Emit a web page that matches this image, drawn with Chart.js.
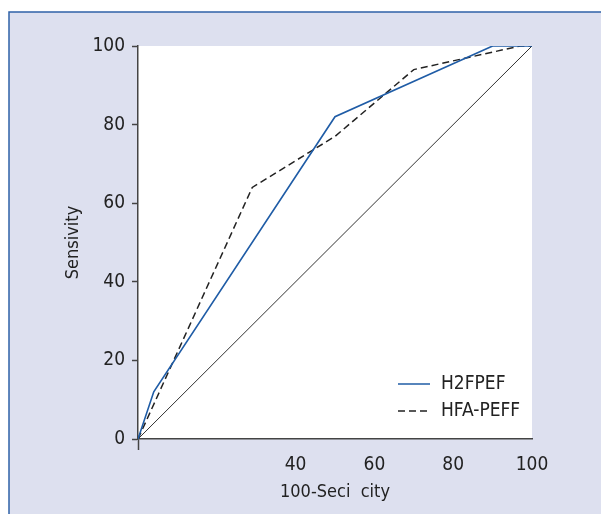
<!DOCTYPE html>
<html>
<head>
<meta charset="utf-8">
<script src="https://cdn.jsdelivr.net/npm/chart.js"></script>
<style>
  html, body { margin: 0; padding: 0; background: #fff; }
  #wrap { width: 601px; height: 514px; }
</style>
</head>
<body>
<div id="wrap"><canvas id="grafico" width="601" height="514"></canvas></div>
<script>
// datos
const h2fpefX = [0, 4, 50, 90, 100]
const h2fpefY = [0, 12, 82, 100, 100]
const hfaPeffX = [0, 29, 50, 70, 97, 100]
const hfaPeffY = [0, 64, 77, 94, 100, 100]
const diagonalX = [0, 100]
const diagonalY = [0, 100]
const ticksY = [0, 20, 40, 60, 80, 100]
const ticksXConEtiqueta = [40, 60, 80, 100]

const fuente = "'Liberation Sans Narrow', 'DejaVu Sans Condensed', sans-serif"

function puntos(xs, ys) {
    return xs.map((x, i) => ({ x: x, y: ys[i] }))
}

// fondo lila con marco azul y area blanca
const fondo = {
    id: 'fondo',
    beforeDraw(chart) {
        const ctx = chart.ctx
        const a = chart.chartArea
        ctx.save()
        ctx.fillStyle = '#ffffff'
        ctx.fillRect(0, 0, chart.width, chart.height)
        ctx.fillStyle = '#dde0ef'
        ctx.fillRect(9, 12, chart.width - 9, chart.height - 12)
        ctx.strokeStyle = '#2f62a8'
        ctx.lineWidth = 1.5
        ctx.beginPath()
        ctx.moveTo(9, chart.height)
        ctx.lineTo(9, 12)
        ctx.lineTo(chart.width, 12)
        ctx.stroke()
        ctx.fillStyle = '#ffffff'
        ctx.fillRect(a.left, a.top, a.right - a.left, a.bottom - a.top)
        ctx.restore()
    }
}

// leyenda dentro del area del grafico, abajo a la derecha
const leyenda = {
    id: 'leyenda',
    afterDraw(chart) {
        const ctx = chart.ctx
        const a = chart.chartArea
        const items = chart.data.datasets.filter(d => d.label)
        ctx.save()
        ctx.font = '19px ' + fuente
        ctx.textBaseline = 'middle'
        items.forEach((d, i) => {
            const y = a.bottom - 55 + i * 27
            ctx.strokeStyle = d.borderColor
            ctx.lineWidth = 1.5
            ctx.setLineDash(d.borderDash || [])
            ctx.beginPath()
            ctx.moveTo(a.left + 260, y)
            ctx.lineTo(a.left + 292, y)
            ctx.stroke()
            ctx.setLineDash([])
            ctx.fillStyle = '#222'
            ctx.fillText(d.label, a.left + 303, y)
        })
        ctx.restore()
    }
}

const grafico = document.getElementById('grafico')

new Chart(grafico, {
    type: 'line',
    data: {
        datasets: [
            {
                label: 'H2FPEF',
                data: puntos(h2fpefX, h2fpefY),
                borderColor: '#1f5ca6',
                borderWidth: 1.6,
                pointRadius: 0,
                tension: 0
            },
            {
                label: 'HFA-PEFF',
                data: puntos(hfaPeffX, hfaPeffY),
                borderColor: '#222222',
                borderWidth: 1.5,
                borderDash: [7, 4],
                pointRadius: 0,
                tension: 0
            },
            {
                label: '',
                data: puntos(diagonalX, diagonalY),
                borderColor: '#333333',
                borderWidth: 1,
                pointRadius: 0,
                tension: 0
            }
        ]
    },
    options: {
        responsive: false,
        animation: false,
        layout: {
            padding: { left: 0, top: 46, right: 69, bottom: 0 }
        },
        plugins: {
            legend: { display: false },
            tooltip: { enabled: false }
        },
        scales: {
            x: {
                type: 'linear',
                min: 0,
                max: 100,
                afterFit: (s) => { s.height = 75 },
                afterBuildTicks: (s) => {
                    s.ticks = [0, 20].concat(ticksXConEtiqueta).map(v => ({ value: v }))
                },
                ticks: {
                    autoSkip: false,
                    maxRotation: 0,
                    padding: 4,
                    color: '#222',
                    font: { family: fuente, size: 19 },
                    callback: (v) => ticksXConEtiqueta.includes(v) ? String(v) : ''
                },
                grid: {
                    drawOnChartArea: false,
                    drawTicks: true,
                    tickLength: 11,
                    tickColor: (c) => c.tick && c.tick.value === 0 ? '#444' : 'rgba(0,0,0,0)',
                    tickWidth: 1.5
                },
                border: { display: true, color: '#444', width: 1.5 },
                title: {
                    display: true,
                    text: '100-Seci  city',
                    color: '#222',
                    font: { family: fuente, size: 18 },
                    padding: { top: 0, bottom: 11 }
                }
            },
            y: {
                min: 0,
                max: 100,
                afterFit: (s) => { s.width = 138 },
                afterBuildTicks: (s) => {
                    s.ticks = ticksY.map(v => ({ value: v }))
                },
                ticks: {
                    padding: 7,
                    color: '#222',
                    font: { family: fuente, size: 19 }
                },
                grid: {
                    drawOnChartArea: false,
                    drawTicks: true,
                    tickLength: 6,
                    tickColor: '#444',
                    tickWidth: 1.5
                },
                border: { display: true, color: '#444', width: 1.5 },
                title: {
                    display: true,
                    text: 'Sensivity',
                    color: '#222',
                    font: { family: fuente, size: 18 },
                    padding: { top: 63, bottom: 0 }
                }
            }
        }
    },
    plugins: [fondo, leyenda]
})
</script>
</body>
</html>
